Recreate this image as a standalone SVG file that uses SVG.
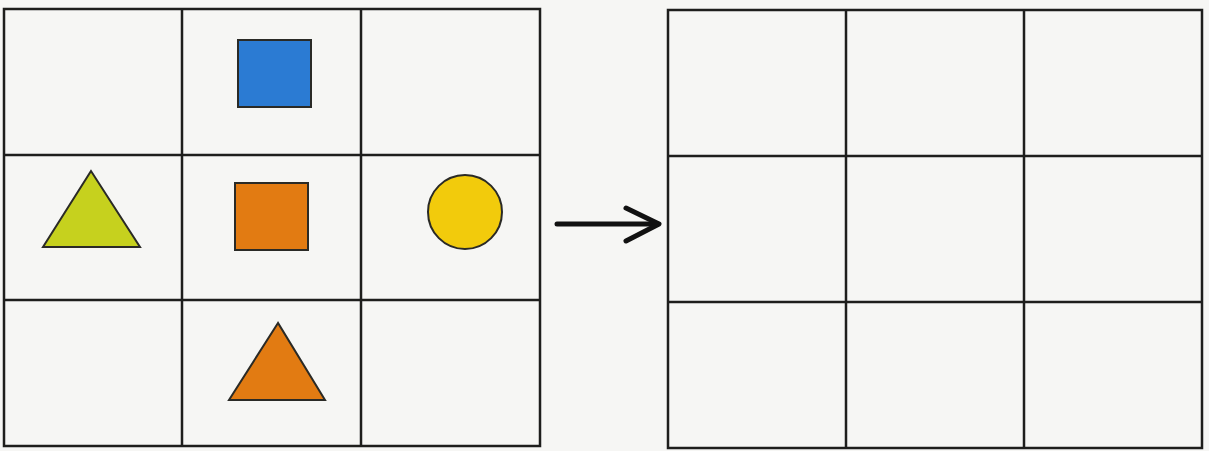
<svg xmlns="http://www.w3.org/2000/svg" width="1209" height="451" viewBox="0 0 1209 451">
<style>
.grid{fill:none;stroke:#1e1e1c;stroke-width:2.5}
.shape{stroke:#2a2a26;stroke-width:2}
.arrow{fill:none;stroke:#111;stroke-width:5;stroke-linecap:round;stroke-linejoin:round}
</style>
<rect width="1209" height="451" fill="#f6f6f4"/>
<g id="left-grid">
<rect class="grid" x="4" y="9" width="536" height="437"/>
<line class="grid" x1="182" y1="9" x2="182" y2="446"/>
<line class="grid" x1="361" y1="9" x2="361" y2="446"/>
<line class="grid" x1="4" y1="155" x2="540" y2="155"/>
<line class="grid" x1="4" y1="300" x2="540" y2="300"/>
</g>
<g id="blue-square"><rect class="shape" x="238" y="40" width="73" height="67" fill="#2b7bd3"/></g>
<g id="orange-square"><rect class="shape" x="235" y="183" width="73" height="67" fill="#e27b12"/></g>
<g id="green-triangle"><polygon class="shape" points="91,171 43,247 140,247" fill="#c6d11e"/></g>
<g id="yellow-circle"><circle class="shape" cx="465" cy="212" r="37" fill="#f2cb0c"/></g>
<g id="orange-triangle"><polygon class="shape" points="278,323 229,400 325,400" fill="#e27b12"/></g>
<g id="right-grid">
<rect class="grid" x="668" y="10" width="534" height="438"/>
<line class="grid" x1="846" y1="10" x2="846" y2="448"/>
<line class="grid" x1="1024" y1="10" x2="1024" y2="448"/>
<line class="grid" x1="668" y1="156" x2="1202" y2="156"/>
<line class="grid" x1="668" y1="302" x2="1202" y2="302"/>
</g>
<g id="connectors">
<line class="arrow" x1="557" y1="224" x2="657" y2="224"/>
<polyline class="arrow" points="626,208 659,224 626,241"/>
</g>
</svg>
